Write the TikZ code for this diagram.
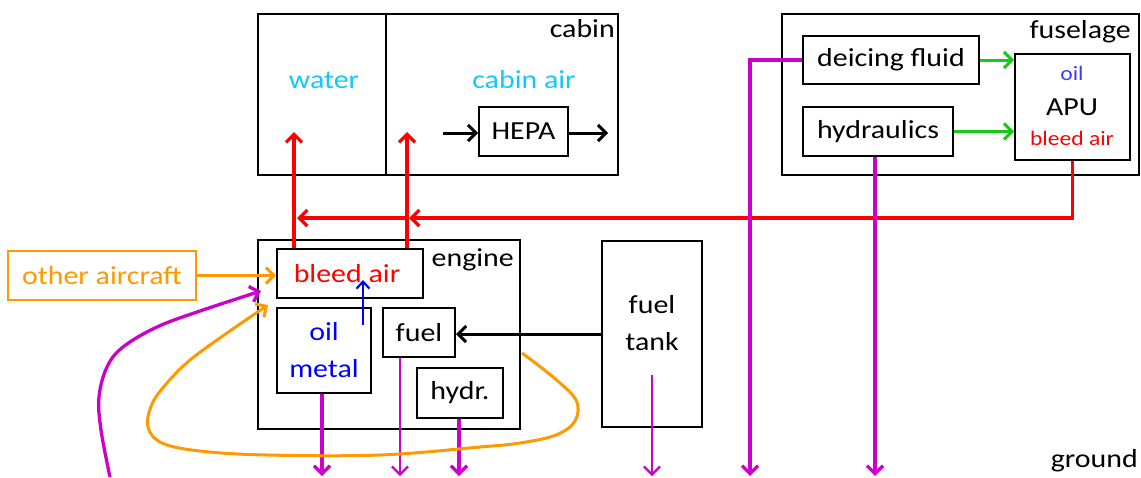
\documentclass[tikz,border=0pt]{standalone}
\usepackage{fontspec}
\setmainfont{Carlito}[FakeStretch=1.15]
\usetikzlibrary{arrows.meta}
\definecolor{cyanT}{RGB}{20,200,250}
\definecolor{orangeT}{RGB}{255,153,0}
\definecolor{magT}{RGB}{204,0,204}
\definecolor{greenT}{RGB}{20,204,20}
\definecolor{blueT}{RGB}{0,0,255}
\definecolor{blueL}{RGB}{60,60,255}
\definecolor{redT}{RGB}{255,0,0}
\begin{document}
\begin{tikzpicture}[x=1pt,y=-1pt,
  txt/.style={inner sep=0pt, font=\fontsize{26}{37}\selectfont, align=center},
  smalltxt/.style={inner sep=0pt, font=\fontsize{20.5}{24}\selectfont},
  box/.style={draw=black, line width=2pt, inner sep=0pt, font=\fontsize{26}{37}\selectfont, align=center},
  lbl/.style={inner sep=0pt, font=\fontsize{26}{30}\selectfont},
  tipA/.style={-{Straight Barb[length=8pt,width=16pt]}},
  blk/.style={tipA, draw=black, line width=3pt},
  grn/.style={tipA, draw=greenT, line width=3pt},
  rd/.style={tipA, draw=redT, line width=3.3pt},
  mag/.style={tipA, draw=magT, line width=3.3pt},
  magthin/.style={tipA, draw=magT, line width=2.2pt},
  org/.style={tipA, draw=orangeT, line width=3pt},
  blu/.style={-{Straight Barb[length=7pt,width=13pt]}, draw=blueT, line width=2.2pt}]
\useasboundingbox[fill=white] (0,0) rectangle (1141,477);

% cabin
\node[box, minimum width=360pt, minimum height=161pt] (cabin) at (438,94.5) {};
\coordinate (dvt) at (386,14);
\coordinate (dvb) at (386,175);
\draw[line width=2pt] (dvt) -- (dvb);
\node[lbl, anchor=base east] (cabinlbl) at (615,37) {cabin};
\node[txt, text=cyanT] (water) at (324,80) {water};
\node[txt, text=cyanT] (cabinair) at (524,80) {cabin air};
\node[box, minimum width=89pt, minimum height=49pt] (hepa) at (523.5,131.5) {HEPA};
\coordinate (hin) at (443,133);
\coordinate (hout) at (608,133);
\draw[blk] (hin) -- (hin -| hepa.west);
\draw[blk] (hepa.east |- hout) -- (hout);

% fuselage
\node[box, minimum width=357pt, minimum height=161pt] (fus) at (960.5,94.5) {};
\node[lbl, anchor=base east] (fuslbl) at (1131,38) {fuselage};
\node[box, minimum width=176pt, minimum height=48pt] (deice) at (891,60) {deicing fluid};
\node[box, minimum width=150pt, minimum height=49pt] (hydr) at (878,131.5) {hydraulics};
\node[box, minimum width=115pt, minimum height=106pt] (apu) at (1072.5,107) {};
\node[smalltxt, text=blueL] (apuoil) at (1072,73) {oil};
\node[txt] (apulbl) at (1072,107) {APU};
\node[smalltxt, text=redT] (apubleed) at (1072,138) {bleed air};
\draw[grn] (deice.east) -- (deice.east -| apu.west);
\draw[grn] (hydr.east) -- (hydr.east -| apu.west);

% engine
\node[box, minimum width=262pt, minimum height=189pt] (engine) at (389,334.5) {};
\node[lbl, anchor=base east] (englbl) at (514,266) {engine};
\node[box, minimum width=146pt, minimum height=49pt, text=redT] (bleed) at (350,273.5) {bleed air\hspace{6pt}};
\node[box, minimum width=94pt, minimum height=85pt, text=blueT] (oil) at (324,350.5) {oil\\metal};
\node[box, minimum width=72pt, minimum height=49pt] (fuel) at (419,332.5) {fuel};
\node[box, minimum width=86pt, minimum height=50pt] (hyd2) at (460,393) {hydr.};

% fuel tank
\node[box, minimum width=100pt, minimum height=186pt] (tank) at (652,334) {};
\node[txt] (tanklbl) at (652,323) {fuel\\tank};

% other aircraft
\node[box, draw=orangeT, minimum width=188pt, minimum height=49pt, text=orangeT] (other) at (102,275.5) {other aircraft};

% ground
\node[lbl, anchor=base east] (ground) at (1138,467) {ground};

% connectors
\draw[org] (other.east) -- (other.east -| bleed.west);
\coordinate (bs) at (363,325);
\coordinate (bt) at (363,280);
\draw[blu] (bs) -- (bt);
\draw[blk] (tank.west) -- (tank.west -| fuel.east);

% red bleed air
\coordinate (r1) at (294,132);
\coordinate (r2) at (407,132);
\draw[rd] (bleed.north -| r1) -- (r1);
\draw[rd] (bleed.north -| r2) -- (r2);
\coordinate (j1) at (297,218);
\coordinate (j2) at (409,218);
\draw[rd] (apu.south) |- (j2);
\draw[rd] (j2) -- (j1);

% magenta to ground
\coordinate (g1) at (750,476);
\coordinate (g2) at (875,476);
\coordinate (g3) at (322,476);
\coordinate (g4) at (400,476);
\coordinate (g5) at (459,476);
\coordinate (g6) at (652,476);
\coordinate (ts) at (652,375);
\draw[mag] (deice.west) -| (g1);
\draw[mag] (hydr.south -| g2) -- (g2);
\draw[mag] (oil.south -| g3) -- (g3);
\draw[magthin] (fuel.south -| g4) -- (g4);
\draw[mag] (hyd2.south -| g5) -- (g5);
\draw[magthin] (ts) -- (g6);

% curves
\coordinate (m0) at (110,477);
\coordinate (m1) at (261,291);
\draw[mag] plot[smooth, tension=0.6] coordinates {(m0) (101,430) (99,397) (107,367) (123,347) (157,327) (200,311) (m1)};
\coordinate (o0) at (522,353);
\coordinate (o1) at (268,305);
\draw[org] plot[smooth, tension=0.6] coordinates {(o0) (553,377) (576,400) (575,421) (556,435) (520,443) (480,447) (380,455) (267,455) (200,451) (162,443) (148,427) (152,404) (167,383) (190,360) (227,333) (o1)};
\end{tikzpicture}
\end{document}
